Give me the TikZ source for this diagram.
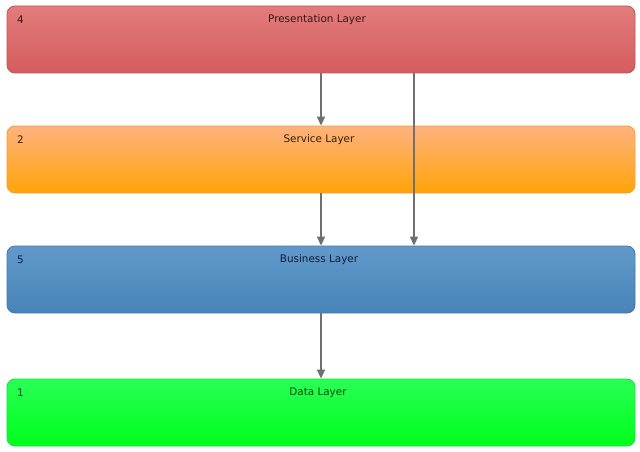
\documentclass[tikz,border=0pt]{standalone}
\usepackage{fontspec}
\setmainfont{DejaVu Sans}
\usetikzlibrary{arrows.meta,calc}
\definecolor{pTop}{HTML}{E27C7C}
\definecolor{pBot}{HTML}{D45C5E}
\definecolor{pLine}{HTML}{C45458}
\definecolor{sTop}{HTML}{FFB27E}
\definecolor{sBot}{HTML}{FFA408}
\definecolor{sLine}{HTML}{F2A030}
\definecolor{bTop}{HTML}{6199CA}
\definecolor{bBot}{HTML}{4884BA}
\definecolor{bLine}{HTML}{4578A8}
\definecolor{dTop}{HTML}{28FF55}
\definecolor{dBot}{HTML}{00FF1C}
\definecolor{dLine}{HTML}{18E040}
\definecolor{arrGray}{HTML}{707070}
\begin{document}
\begin{tikzpicture}[x=1pt,y=-1pt,
  layer/.style={draw, line width=0.8pt, rounded corners=8pt, minimum width=628pt, minimum height=67pt, inner sep=0pt},
  ttl/.style={font=\fontsize{10.4}{12}\selectfont, anchor=center},
  num/.style={font=\fontsize{10.4}{12}\selectfont, anchor=west},
  arr/.style={draw=arrGray, line width=1.6pt, -{Triangle[length=9pt,width=8pt]}}]
\useasboundingbox (0,0) rectangle (640,452);
\fill[white] (0,0) rectangle (640,452);
\node[layer, draw=pLine, top color=pTop, bottom color=pBot] (p) at (321,39.5) {};
\node[layer, draw=sLine, top color=sTop, bottom color=sBot] (s) at (321,159.5) {};
\node[layer, draw=bLine, top color=bTop, bottom color=bBot] (b) at (321,279.5) {};
\node[layer, draw=dLine, top color=dTop, bottom color=dBot] (d) at (321,412.5) {};
\node[ttl, text={rgb,255:red,60;green,20;blue,20}] (pt) at ($(p.north)+(-4,14.5)$) {Presentation Layer};
\node[num, text={rgb,255:red,60;green,20;blue,20}] (pn) at ($(p.north west)+(7,14.5)$) {4};
\node[ttl, text={rgb,255:red,50;green,30;blue,10}] (st) at ($(s.north)+(-2,14.5)$) {Service Layer};
\node[num, text={rgb,255:red,50;green,30;blue,10}] (sn) at ($(s.north west)+(7,14.5)$) {2};
\node[ttl, text={rgb,255:red,15;green,30;blue,55}] (bt) at ($(b.north)+(-2,14.5)$) {Business Layer};
\node[num, text={rgb,255:red,15;green,30;blue,55}] (bn) at ($(b.north west)+(7,14.5)$) {5};
\node[ttl, text={rgb,255:red,10;green,70;blue,20}] (dt) at ($(d.north)+(-3,14.5)$) {Data Layer};
\node[num, text={rgb,255:red,10;green,70;blue,20}] (dn) at ($(d.north west)+(7,14.5)$) {1};
\draw[arr] (p.south) -- (s.north);
\draw[arr] ([xshift=93pt]p.south) -- ([xshift=93pt]b.north);
\draw[arr] (s.south) -- (b.north);
\draw[arr] (b.south) -- (d.north);
\end{tikzpicture}
\end{document}
